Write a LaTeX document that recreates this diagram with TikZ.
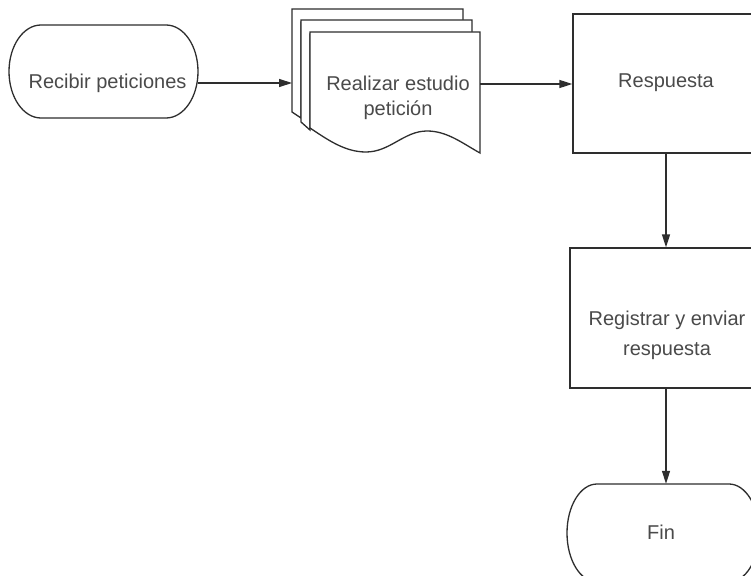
\documentclass[tikz,border=0pt]{standalone}
\usepackage{fontspec}
\setmainfont{Liberation Sans}
\usetikzlibrary{arrows.meta}
\definecolor{linec}{HTML}{2E2E2E}
\definecolor{textc}{HTML}{4A4A4A}
\tikzset{
  shapeline/.style={draw=linec, line width=1.3pt, fill=white},
  lbl/.style={text=textc, font=\fontsize{20}{25}\selectfont, align=center, inner sep=0pt},
  arr/.style={draw=linec, line width=1.3pt, -{Triangle[length=13pt,width=8pt]}},
  procbox/.style={shapeline, rectangle, inner sep=0pt},
  frame/.style={rectangle, inner sep=0pt}
}
\begin{document}
\begin{tikzpicture}[x=1pt,y=-1pt]
\useasboundingbox (0,0) rectangle (751,575);
\fill[white] (0,0) rectangle (751,575);
\clip (0,0) rectangle (751,575);

% Recibir peticiones (terminal)
\node[frame, minimum width=189pt, minimum height=93pt] (rec) at (103.5,71.5) {};
\draw[shapeline] (41,25) -- (166,25)
  arc[start angle=90, end angle=-90, x radius=32pt, y radius=46.5pt]
  -- (41,118)
  arc[start angle=270, end angle=90, x radius=32pt, y radius=46.5pt] -- cycle;
\node[lbl] (rectxt) at (107.5,83) {Recibir peticiones};

% Document stack
\coordinate (docback) at (292,83);
\draw[shapeline] (292,112) -- (292,9) -- (463,9) -- (463,22) -- (301,22) -- (301,118) -- cycle;
\draw[shapeline] (301,122) -- (301,20) -- (472,20) -- (472,34) -- (310,34) -- (310,130) -- cycle;
\draw[shapeline] (310,128) -- (310,32) -- (480,32) -- (480,153)
  .. controls (462,143) and (447,131) .. (427,131)
  .. controls (404,131) and (390,152) .. (366,152)
  .. controls (345,152) and (328,140) .. (310,128) -- cycle;
\node[lbl] (doc) at (398,97.5) {Realizar estudio\\petición};
\coordinate (docright) at (480,84);

% Respuesta
\node[procbox, minimum width=186pt, minimum height=139pt] (resp) at (666,83.5) {};
\node[lbl] (resptxt) at (666,83) {Respuesta};

% Registrar y enviar respuesta
\node[procbox, minimum width=192pt, minimum height=140pt] (reg) at (666,318) {};
\node[lbl, font=\fontsize{20}{30}\selectfont] (regtxt) at (667,335) {Registrar y enviar\\respuesta};

% Fin (terminal)
\node[frame, minimum width=192pt, minimum height=98pt] (fin) at (663,533) {};
\draw[shapeline] (597,484) -- (729,484)
  arc[start angle=90, end angle=-90, x radius=30pt, y radius=49pt]
  -- (597,582)
  arc[start angle=270, end angle=90, x radius=30pt, y radius=49pt] -- cycle;
\node[lbl] (fintxt) at (661,532) {Fin};

% Connectors
\draw[arr] (rectxt.east -| rec.east) -- (docback);
\draw[arr] (docright) -- (docright -| resp.west);
\draw[arr] (resp.south) -- (reg.north);
\draw[arr] (reg.south) -- (reg.south |- fin.north);
\end{tikzpicture}
\end{document}
